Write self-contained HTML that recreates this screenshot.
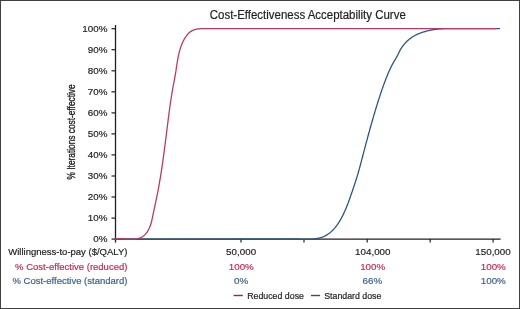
<!DOCTYPE html>
<html><head><meta charset="utf-8">
<style>
html,body{margin:0;padding:0;background:#fff;}
body{width:520px;height:309px;overflow:hidden;}
svg{display:block;will-change:transform;}
text{font-family:"Liberation Sans",sans-serif;stroke:currentColor;stroke-width:0.2px;}
</style></head>
<body>
<svg width="520" height="309" viewBox="0 0 520 309">
<rect x="0" y="0" width="520" height="309" fill="#fff"/>
<rect x="0.5" y="0.5" width="519" height="308" fill="none" stroke="#404040" stroke-width="1"/>
<text x="209.8" y="18.9" font-size="12" fill="#231f20" color="#231f20" textLength="196" lengthAdjust="spacingAndGlyphs">Cost-Effectiveness Acceptability Curve</text>
<!-- y axis title -->
<text transform="translate(75.2,179.4) rotate(-90)" font-size="11.5" fill="#231f20" style="stroke:#231f20;stroke-width:0.35px" textLength="95" lengthAdjust="spacingAndGlyphs">% Iterations cost-effective</text>
<!-- y tick labels -->
<g font-size="9.8" fill="#231f20" color="#231f20" text-anchor="end">
<text x="107.4" y="242.4">0%</text>
<text x="107.4" y="221.4">10%</text>
<text x="107.4" y="200.3">20%</text>
<text x="107.4" y="179.3">30%</text>
<text x="107.4" y="158.2">40%</text>
<text x="107.4" y="137.2">50%</text>
<text x="107.4" y="116.2">60%</text>
<text x="107.4" y="95.1">70%</text>
<text x="107.4" y="74.1">80%</text>
<text x="107.4" y="53.0">90%</text>
<text x="107.4" y="32.0">100%</text>
</g>
<!-- axes -->
<g stroke="#231f20" stroke-width="1.2" fill="none">
<path d="M115.5 25 V242.6" stroke-width="1.3"/>
<path d="M115 239.15 H500.6"/>
<path d="M111.5 239.1 H115.5"/>
<path d="M111.5 218.1 H115.5"/>
<path d="M111.5 197.0 H115.5"/>
<path d="M111.5 176.0 H115.5"/>
<path d="M111.5 154.9 H115.5"/>
<path d="M111.5 133.9 H115.5"/>
<path d="M111.5 112.9 H115.5"/>
<path d="M111.5 91.8 H115.5"/>
<path d="M111.5 70.8 H115.5"/>
<path d="M111.5 49.7 H115.5"/>
<path d="M111.5 28.7 H115.5"/>
<path d="M241.0 239 V242.6"/><path d="M304.0 239 V242.6"/><path d="M367.2 239 V242.6"/><path d="M430.2 239 V242.6"/><path d="M493.1 239 V242.6"/>
</g>
<!-- curves -->
<path d="M115.00 239.05 L280.00 239.01 L280.51 238.99 L281.01 238.97 L281.52 238.95 L282.03 238.94 L282.53 238.92 L283.04 238.91 L283.54 238.90 L284.05 238.89 L284.55 238.88 L285.06 238.87 L285.56 238.87 L286.06 238.86 L286.57 238.86 L287.07 238.85 L287.57 238.85 L288.07 238.85 L288.57 238.85 L289.07 238.85 L289.57 238.85 L290.07 238.86 L290.57 238.86 L291.07 238.86 L291.57 238.87 L292.07 238.87 L292.57 238.88 L293.07 238.89 L293.57 238.89 L294.07 238.90 L294.57 238.91 L295.06 238.92 L295.56 238.93 L296.06 238.94 L296.56 238.95 L297.06 238.96 L297.55 238.97 L298.05 238.98 L298.55 238.99 L299.05 239.00 L299.55 239.02 L300.04 239.03 L300.54 239.04 L301.04 239.05 L301.54 239.05 L302.04 239.05 L302.53 239.05 L303.03 239.05 L303.53 239.05 L304.03 239.05 L304.53 239.05 L305.03 239.05 L305.53 239.05 L306.03 239.05 L306.53 239.05 L307.03 239.05 L307.53 239.05 L308.03 239.05 L308.53 239.05 L309.03 239.05 L309.54 239.05 L310.04 239.05 L310.54 239.05 L311.04 239.05 L311.55 239.05 L312.05 239.05 L312.56 239.05 L313.06 239.01 L313.56 238.97 L314.07 238.92 L314.57 238.87 L315.08 238.81 L315.58 238.75 L316.08 238.68 L316.58 238.60 L317.08 238.51 L317.58 238.42 L318.07 238.32 L318.57 238.21 L319.06 238.10 L319.55 237.98 L320.03 237.85 L320.52 237.71 L321.00 237.56 L321.47 237.41 L321.95 237.24 L322.42 237.07 L322.88 236.88 L323.35 236.69 L323.80 236.49 L324.26 236.29 L324.71 236.07 L325.15 235.85 L325.59 235.61 L326.02 235.37 L326.45 235.13 L326.88 234.87 L327.30 234.61 L327.71 234.34 L328.12 234.07 L328.52 233.78 L328.92 233.50 L329.32 233.20 L329.71 232.90 L330.09 232.59 L330.47 232.27 L330.85 231.95 L331.22 231.63 L331.59 231.29 L331.95 230.96 L332.31 230.61 L332.66 230.26 L333.01 229.91 L333.36 229.55 L333.70 229.19 L334.04 228.82 L334.37 228.44 L334.70 228.07 L335.02 227.68 L335.35 227.30 L335.66 226.91 L335.98 226.51 L336.28 226.11 L336.59 225.71 L336.89 225.30 L337.19 224.89 L337.48 224.48 L337.77 224.06 L338.06 223.64 L338.34 223.22 L338.62 222.80 L338.90 222.37 L339.17 221.94 L339.44 221.51 L339.71 221.07 L339.97 220.64 L340.23 220.20 L340.48 219.76 L340.74 219.31 L340.99 218.87 L341.23 218.43 L341.48 217.98 L341.72 217.53 L341.95 217.08 L342.19 216.63 L342.42 216.18 L342.65 215.73 L342.87 215.28 L343.10 214.83 L343.32 214.38 L343.54 213.92 L343.75 213.47 L343.96 213.01 L344.17 212.56 L344.38 212.10 L344.59 211.65 L344.79 211.19 L344.99 210.74 L345.19 210.28 L345.39 209.82 L345.58 209.36 L345.78 208.90 L345.97 208.45 L346.16 207.99 L346.35 207.53 L346.53 207.06 L346.72 206.60 L346.90 206.14 L347.08 205.68 L347.26 205.22 L347.44 204.76 L347.62 204.29 L347.80 203.83 L347.97 203.36 L348.15 202.90 L348.32 202.43 L348.49 201.97 L348.66 201.50 L348.83 201.04 L349.00 200.57 L349.17 200.10 L349.34 199.64 L349.51 199.17 L349.67 198.70 L349.84 198.23 L350.01 197.76 L350.17 197.29 L350.34 196.82 L350.50 196.35 L350.67 195.88 L350.83 195.41 L351.00 194.94 L351.16 194.47 L351.33 194.00 L351.49 193.53 L351.66 193.05 L351.82 192.58 L351.99 192.11 L352.15 191.63 L352.32 191.16 L352.48 190.69 L352.64 190.21 L352.80 189.74 L352.97 189.26 L353.13 188.79 L353.29 188.31 L353.45 187.84 L353.61 187.36 L353.77 186.88 L353.93 186.41 L354.09 185.93 L354.25 185.45 L354.41 184.98 L354.57 184.50 L354.73 184.02 L354.88 183.54 L355.04 183.06 L355.20 182.59 L355.35 182.11 L355.51 181.63 L355.66 181.15 L355.81 180.67 L355.97 180.19 L356.12 179.71 L356.27 179.23 L356.42 178.75 L356.57 178.27 L356.72 177.79 L356.87 177.31 L357.02 176.83 L357.16 176.35 L357.31 175.86 L357.46 175.38 L357.60 174.90 L357.74 174.42 L357.89 173.94 L358.03 173.45 L358.17 172.97 L358.31 172.49 L358.45 172.01 L358.59 171.52 L358.72 171.04 L358.86 170.56 L358.99 170.08 L359.13 169.59 L359.26 169.11 L359.40 168.63 L359.53 168.14 L359.66 167.66 L359.79 167.18 L359.92 166.69 L360.05 166.21 L360.18 165.72 L360.31 165.24 L360.44 164.76 L360.56 164.27 L360.69 163.79 L360.82 163.30 L360.95 162.82 L361.07 162.33 L361.20 161.85 L361.33 161.37 L361.45 160.88 L361.58 160.40 L361.71 159.91 L361.83 159.43 L361.96 158.94 L362.08 158.46 L362.21 157.97 L362.34 157.49 L362.46 157.01 L362.59 156.52 L362.72 156.04 L362.84 155.55 L362.97 155.07 L363.10 154.58 L363.23 154.10 L363.35 153.61 L363.48 153.13 L363.61 152.64 L363.73 152.16 L363.86 151.67 L363.99 151.19 L364.12 150.71 L364.24 150.22 L364.37 149.74 L364.50 149.25 L364.63 148.77 L364.75 148.28 L364.88 147.80 L365.01 147.31 L365.14 146.83 L365.27 146.34 L365.39 145.86 L365.52 145.38 L365.65 144.89 L365.78 144.41 L365.91 143.92 L366.04 143.44 L366.17 142.95 L366.30 142.47 L366.43 141.98 L366.56 141.50 L366.69 141.02 L366.81 140.53 L366.94 140.05 L367.07 139.56 L367.21 139.08 L367.34 138.59 L367.47 138.11 L367.60 137.63 L367.73 137.14 L367.86 136.66 L367.99 136.17 L368.12 135.69 L368.25 135.21 L368.38 134.72 L368.52 134.24 L368.65 133.76 L368.78 133.27 L368.91 132.79 L369.05 132.30 L369.18 131.82 L369.31 131.34 L369.44 130.85 L369.58 130.37 L369.71 129.89 L369.85 129.40 L369.98 128.92 L370.11 128.44 L370.25 127.95 L370.38 127.47 L370.52 126.99 L370.65 126.51 L370.79 126.02 L370.92 125.54 L371.06 125.06 L371.20 124.58 L371.33 124.09 L371.47 123.61 L371.61 123.13 L371.74 122.65 L371.88 122.16 L372.02 121.68 L372.16 121.20 L372.29 120.72 L372.43 120.24 L372.57 119.75 L372.71 119.27 L372.85 118.79 L372.99 118.31 L373.13 117.83 L373.27 117.35 L373.41 116.86 L373.55 116.38 L373.69 115.90 L373.83 115.42 L373.97 114.94 L374.11 114.46 L374.26 113.98 L374.40 113.50 L374.54 113.02 L374.69 112.54 L374.83 112.06 L374.97 111.58 L375.12 111.10 L375.26 110.62 L375.41 110.14 L375.55 109.66 L375.70 109.18 L375.84 108.70 L375.99 108.22 L376.13 107.74 L376.28 107.26 L376.43 106.78 L376.58 106.30 L376.72 105.82 L376.87 105.34 L377.02 104.86 L377.17 104.38 L377.32 103.91 L377.47 103.43 L377.62 102.95 L377.77 102.47 L377.92 101.99 L378.07 101.52 L378.22 101.04 L378.37 100.56 L378.53 100.08 L378.68 99.61 L378.83 99.13 L378.98 98.65 L379.14 98.17 L379.29 97.70 L379.45 97.22 L379.60 96.74 L379.76 96.27 L379.91 95.79 L380.07 95.32 L380.23 94.84 L380.39 94.37 L380.54 93.89 L380.70 93.41 L380.86 92.94 L381.02 92.47 L381.18 91.99 L381.34 91.52 L381.51 91.04 L381.67 90.57 L381.83 90.10 L381.99 89.62 L382.16 89.15 L382.32 88.68 L382.49 88.21 L382.65 87.73 L382.82 87.26 L382.99 86.79 L383.15 86.32 L383.32 85.85 L383.49 85.38 L383.66 84.91 L383.83 84.44 L384.01 83.97 L384.18 83.50 L384.35 83.03 L384.52 82.56 L384.70 82.10 L384.87 81.63 L385.05 81.16 L385.23 80.69 L385.41 80.23 L385.58 79.76 L385.76 79.30 L385.94 78.83 L386.12 78.37 L386.31 77.90 L386.49 77.44 L386.67 76.97 L386.86 76.51 L387.04 76.05 L387.23 75.59 L387.42 75.13 L387.61 74.66 L387.80 74.20 L387.99 73.74 L388.18 73.28 L388.38 72.82 L388.57 72.37 L388.77 71.91 L388.97 71.45 L389.17 70.99 L389.38 70.54 L389.58 70.08 L389.79 69.62 L390.00 69.17 L390.21 68.71 L390.43 68.26 L390.64 67.81 L390.86 67.35 L391.09 66.90 L391.31 66.45 L391.54 66.00 L391.77 65.55 L392.01 65.10 L392.25 64.65 L392.49 64.20 L392.73 63.75 L392.98 63.31 L393.23 62.86 L393.48 62.41 L393.74 61.97 L394.00 61.52 L394.27 61.08 L394.54 60.64 L394.81 60.19 L395.08 59.75 L395.35 59.31 L395.62 58.87 L395.88 58.43 L396.14 57.99 L396.39 57.55 L396.64 57.11 L396.88 56.67 L397.11 56.24 L397.34 55.80 L397.56 55.36 L397.77 54.93 L397.98 54.49 L398.19 54.06 L398.39 53.63 L398.60 53.19 L398.81 52.76 L399.02 52.33 L399.23 51.90 L399.45 51.46 L399.67 51.03 L399.90 50.60 L400.13 50.18 L400.37 49.75 L400.62 49.32 L400.87 48.90 L401.13 48.47 L401.40 48.05 L401.67 47.63 L401.95 47.22 L402.23 46.81 L402.52 46.40 L402.82 45.99 L403.12 45.59 L403.43 45.19 L403.74 44.80 L404.06 44.41 L404.39 44.02 L404.72 43.64 L405.05 43.26 L405.39 42.89 L405.74 42.52 L406.09 42.15 L406.45 41.79 L406.81 41.44 L407.18 41.09 L407.55 40.74 L407.92 40.40 L408.30 40.06 L408.69 39.73 L409.08 39.41 L409.47 39.09 L409.87 38.78 L410.27 38.47 L410.67 38.17 L411.08 37.87 L411.49 37.58 L411.90 37.30 L412.32 37.02 L412.74 36.75 L413.17 36.49 L413.60 36.23 L414.03 35.98 L414.46 35.74 L414.90 35.50 L415.34 35.26 L415.78 35.04 L416.23 34.82 L416.67 34.60 L417.12 34.39 L417.58 34.19 L418.03 33.99 L418.49 33.79 L418.95 33.60 L419.41 33.42 L419.88 33.24 L420.34 33.06 L420.81 32.89 L421.28 32.72 L421.75 32.56 L422.22 32.39 L422.70 32.24 L423.18 32.08 L423.65 31.94 L424.13 31.79 L424.62 31.65 L425.10 31.51 L425.58 31.37 L426.07 31.24 L426.55 31.11 L427.04 30.98 L427.53 30.86 L428.02 30.74 L428.51 30.62 L429.00 30.51 L429.49 30.40 L429.98 30.29 L430.48 30.19 L430.97 30.09 L431.46 30.00 L431.96 29.91 L432.45 29.82 L432.95 29.74 L433.44 29.66 L433.94 29.58 L434.43 29.51 L434.93 29.44 L435.43 29.38 L435.92 29.32 L436.42 29.26 L436.92 29.20 L437.41 29.15 L437.91 29.10 L438.41 29.05 L438.90 29.01 L439.40 28.97 L439.90 28.93 L440.40 28.89 L440.90 28.86 L441.39 28.83 L441.89 28.80 L442.39 28.77 L442.89 28.75 L443.39 28.72 L443.89 28.70 L444.39 28.69 L444.89 28.67 L445.39 28.65 L445.89 28.65 L446.39 28.65 L446.89 28.65 L447.39 28.65 L447.89 28.65 L448.39 28.65 L448.89 28.65 L449.39 28.65 L449.89 28.65 L450.39 28.65 L450.89 28.65 L451.39 28.65 L451.89 28.65 L452.40 28.65 L452.90 28.65 L453.40 28.65 L453.90 28.65 L454.40 28.65 L454.90 28.65 L455.41 28.65 L455.91 28.65 L456.41 28.65 L456.91 28.65 L457.41 28.65 L457.92 28.65 L458.42 28.65 L458.92 28.65 L459.42 28.65 L459.92 28.65 L460.43 28.65 L460.93 28.65 L461.43 28.65 L461.93 28.65 L462.44 28.65 L462.94 28.65 L463.44 28.65 L463.94 28.65 L464.45 28.65 L464.95 28.65 L465.45 28.65 L465.95 28.65 L466.46 28.65 L466.96 28.65 L467.46 28.65 L467.96 28.65 L468.46 28.65 L468.97 28.65 L469.47 28.65 L469.97 28.65 L470.47 28.65 L470.98 28.65 L471.48 28.65 L471.98 28.65 L472.48 28.65 L472.98 28.65 L473.49 28.65 L473.99 28.65 L474.49 28.65 L474.99 28.65 L475.49 28.65 L475.99 28.65 L476.49 28.65 L477.00 28.65 L477.50 28.65 L478.00 28.65 L478.50 28.65 L479.00 28.65 L479.50 28.65 L480.00 28.65 L480.50 28.65 L481.00 28.65 L481.50 28.65 L482.00 28.65 L482.50 28.65 L483.00 28.65 L483.50 28.65 L484.00 28.65 L484.50 28.65 L485.00 28.65 L500.00 28.65" fill="none" stroke="#2d5580" stroke-width="1.3"/>
<path d="M115.00 239.05 L115.01 239.00 L115.49 238.94 L115.97 238.89 L116.45 238.85 L116.94 238.81 L117.43 238.79 L117.92 238.77 L118.41 238.75 L118.91 238.74 L119.40 238.74 L119.90 238.75 L120.40 238.75 L120.90 238.77 L121.40 238.78 L121.91 238.80 L122.41 238.82 L122.92 238.85 L123.43 238.87 L123.94 238.90 L124.44 238.93 L124.95 238.96 L125.46 238.99 L125.97 239.02 L126.48 239.05 L127.00 239.05 L127.51 239.05 L128.02 239.05 L128.53 239.05 L129.04 239.05 L129.55 239.05 L130.06 239.05 L130.57 239.05 L131.07 239.05 L131.58 239.05 L132.09 239.05 L132.59 239.05 L133.10 239.05 L133.60 239.05 L134.10 239.05 L134.60 239.03 L135.10 238.98 L135.60 238.91 L136.09 238.84 L136.58 238.76 L137.07 238.67 L137.56 238.56 L138.04 238.45 L138.52 238.32 L139.00 238.18 L139.47 238.03 L139.93 237.87 L140.39 237.69 L140.83 237.50 L141.28 237.29 L141.71 237.07 L142.13 236.83 L142.55 236.58 L142.95 236.31 L143.35 236.03 L143.73 235.73 L144.11 235.42 L144.47 235.09 L144.83 234.75 L145.18 234.40 L145.52 234.04 L145.85 233.67 L146.17 233.28 L146.48 232.88 L146.78 232.48 L147.08 232.07 L147.36 231.64 L147.64 231.21 L147.90 230.78 L148.16 230.33 L148.41 229.88 L148.66 229.42 L148.89 228.96 L149.12 228.50 L149.33 228.03 L149.54 227.56 L149.74 227.08 L149.94 226.61 L150.12 226.13 L150.30 225.65 L150.47 225.17 L150.63 224.69 L150.79 224.21 L150.94 223.73 L151.08 223.25 L151.22 222.76 L151.35 222.28 L151.48 221.80 L151.60 221.32 L151.72 220.84 L151.83 220.36 L151.94 219.87 L152.05 219.39 L152.16 218.91 L152.26 218.43 L152.36 217.94 L152.46 217.46 L152.56 216.98 L152.66 216.49 L152.76 216.01 L152.85 215.52 L152.95 215.04 L153.05 214.56 L153.15 214.07 L153.25 213.59 L153.35 213.10 L153.45 212.62 L153.55 212.13 L153.66 211.64 L153.76 211.16 L153.86 210.67 L153.96 210.19 L154.07 209.70 L154.17 209.21 L154.28 208.73 L154.38 208.24 L154.48 207.75 L154.59 207.26 L154.69 206.78 L154.80 206.29 L154.90 205.80 L155.01 205.31 L155.11 204.83 L155.22 204.34 L155.32 203.85 L155.43 203.36 L155.53 202.87 L155.63 202.38 L155.74 201.89 L155.84 201.40 L155.95 200.91 L156.05 200.42 L156.15 199.93 L156.26 199.44 L156.36 198.95 L156.46 198.46 L156.56 197.97 L156.67 197.48 L156.77 196.99 L156.87 196.50 L156.97 196.01 L157.07 195.52 L157.17 195.03 L157.27 194.54 L157.36 194.05 L157.46 193.55 L157.56 193.06 L157.66 192.57 L157.75 192.08 L157.85 191.59 L157.94 191.09 L158.04 190.60 L158.13 190.11 L158.22 189.62 L158.32 189.12 L158.41 188.63 L158.50 188.14 L158.59 187.64 L158.68 187.15 L158.77 186.66 L158.86 186.16 L158.95 185.67 L159.04 185.18 L159.13 184.68 L159.21 184.19 L159.30 183.69 L159.39 183.20 L159.47 182.70 L159.56 182.21 L159.65 181.72 L159.73 181.22 L159.82 180.73 L159.90 180.23 L159.98 179.74 L160.07 179.24 L160.15 178.75 L160.23 178.25 L160.31 177.76 L160.40 177.26 L160.48 176.77 L160.56 176.27 L160.64 175.77 L160.72 175.28 L160.80 174.78 L160.88 174.29 L160.95 173.79 L161.03 173.29 L161.11 172.80 L161.19 172.30 L161.27 171.81 L161.34 171.31 L161.42 170.81 L161.50 170.32 L161.57 169.82 L161.65 169.32 L161.72 168.83 L161.80 168.33 L161.87 167.83 L161.95 167.34 L162.02 166.84 L162.09 166.34 L162.17 165.85 L162.24 165.35 L162.31 164.85 L162.38 164.35 L162.46 163.86 L162.53 163.36 L162.60 162.86 L162.67 162.36 L162.74 161.87 L162.81 161.37 L162.88 160.87 L162.95 160.37 L163.02 159.88 L163.09 159.38 L163.16 158.88 L163.23 158.38 L163.30 157.89 L163.37 157.39 L163.44 156.89 L163.50 156.39 L163.57 155.89 L163.64 155.40 L163.71 154.90 L163.77 154.40 L163.84 153.90 L163.91 153.40 L163.97 152.91 L164.04 152.41 L164.11 151.91 L164.17 151.41 L164.24 150.91 L164.30 150.42 L164.37 149.92 L164.44 149.42 L164.50 148.92 L164.57 148.42 L164.63 147.92 L164.70 147.43 L164.76 146.93 L164.82 146.43 L164.89 145.93 L164.95 145.43 L165.02 144.94 L165.08 144.44 L165.14 143.94 L165.21 143.44 L165.27 142.94 L165.34 142.44 L165.40 141.95 L165.46 141.45 L165.52 140.95 L165.59 140.45 L165.65 139.95 L165.71 139.46 L165.78 138.96 L165.84 138.46 L165.90 137.96 L165.96 137.46 L166.03 136.97 L166.09 136.47 L166.15 135.97 L166.21 135.47 L166.28 134.97 L166.34 134.48 L166.40 133.98 L166.46 133.48 L166.53 132.98 L166.59 132.49 L166.65 131.99 L166.71 131.49 L166.77 130.99 L166.84 130.50 L166.90 130.00 L166.96 129.50 L167.02 129.00 L167.09 128.51 L167.15 128.01 L167.21 127.51 L167.27 127.01 L167.34 126.52 L167.40 126.02 L167.46 125.52 L167.52 125.03 L167.58 124.53 L167.65 124.03 L167.71 123.54 L167.77 123.04 L167.84 122.54 L167.90 122.05 L167.96 121.55 L168.02 121.05 L168.09 120.56 L168.15 120.06 L168.21 119.56 L168.28 119.07 L168.34 118.57 L168.40 118.08 L168.47 117.58 L168.53 117.08 L168.60 116.59 L168.66 116.09 L168.72 115.60 L168.79 115.10 L168.85 114.61 L168.92 114.11 L168.98 113.62 L169.05 113.12 L169.11 112.63 L169.18 112.13 L169.24 111.64 L169.31 111.14 L169.37 110.65 L169.44 110.15 L169.51 109.66 L169.57 109.16 L169.64 108.67 L169.71 108.17 L169.78 107.68 L169.84 107.19 L169.91 106.69 L169.98 106.20 L170.05 105.70 L170.12 105.21 L170.19 104.72 L170.26 104.22 L170.33 103.73 L170.40 103.23 L170.47 102.74 L170.54 102.25 L170.61 101.75 L170.68 101.26 L170.76 100.77 L170.83 100.27 L170.90 99.78 L170.98 99.29 L171.05 98.79 L171.13 98.30 L171.20 97.81 L171.28 97.31 L171.36 96.82 L171.43 96.33 L171.51 95.83 L171.59 95.34 L171.67 94.85 L171.75 94.35 L171.83 93.86 L171.91 93.37 L171.99 92.87 L172.07 92.38 L172.15 91.89 L172.24 91.40 L172.32 90.90 L172.41 90.41 L172.49 89.92 L172.58 89.42 L172.66 88.93 L172.75 88.44 L172.84 87.95 L172.93 87.45 L173.02 86.96 L173.11 86.47 L173.20 85.97 L173.29 85.48 L173.38 84.99 L173.48 84.49 L173.57 84.00 L173.66 83.51 L173.76 83.02 L173.85 82.52 L173.95 82.03 L174.05 81.54 L174.14 81.04 L174.24 80.55 L174.33 80.06 L174.43 79.56 L174.52 79.07 L174.62 78.58 L174.71 78.08 L174.80 77.59 L174.89 77.10 L174.98 76.60 L175.07 76.11 L175.16 75.62 L175.24 75.12 L175.33 74.63 L175.41 74.14 L175.49 73.64 L175.57 73.15 L175.65 72.65 L175.73 72.16 L175.81 71.67 L175.88 71.17 L175.96 70.68 L176.03 70.18 L176.11 69.69 L176.18 69.20 L176.26 68.70 L176.33 68.21 L176.40 67.71 L176.48 67.22 L176.55 66.72 L176.62 66.23 L176.70 65.73 L176.77 65.24 L176.85 64.74 L176.92 64.25 L177.00 63.76 L177.07 63.26 L177.15 62.76 L177.23 62.27 L177.31 61.77 L177.39 61.28 L177.48 60.78 L177.56 60.29 L177.65 59.79 L177.73 59.30 L177.82 58.80 L177.91 58.30 L178.01 57.81 L178.10 57.31 L178.20 56.82 L178.30 56.32 L178.40 55.82 L178.51 55.33 L178.62 54.83 L178.73 54.34 L178.84 53.84 L178.95 53.35 L179.07 52.86 L179.20 52.37 L179.32 51.87 L179.45 51.38 L179.58 50.90 L179.72 50.41 L179.85 49.92 L180.00 49.44 L180.14 48.95 L180.29 48.47 L180.44 47.99 L180.60 47.51 L180.76 47.03 L180.93 46.56 L181.10 46.08 L181.27 45.61 L181.45 45.14 L181.63 44.68 L181.82 44.21 L182.01 43.75 L182.21 43.29 L182.41 42.83 L182.62 42.38 L182.83 41.93 L183.05 41.48 L183.27 41.03 L183.49 40.59 L183.73 40.15 L183.97 39.71 L184.21 39.28 L184.46 38.85 L184.71 38.42 L184.98 38.00 L185.24 37.58 L185.52 37.16 L185.79 36.75 L186.08 36.34 L186.37 35.94 L186.67 35.54 L186.97 35.14 L187.29 34.76 L187.61 34.37 L187.93 34.00 L188.27 33.63 L188.61 33.28 L188.96 32.93 L189.33 32.60 L189.70 32.28 L190.08 31.97 L190.47 31.67 L190.87 31.39 L191.28 31.13 L191.70 30.88 L192.13 30.65 L192.57 30.43 L193.02 30.23 L193.48 30.05 L193.95 29.88 L194.43 29.72 L194.91 29.58 L195.39 29.45 L195.88 29.33 L196.38 29.22 L196.88 29.13 L197.38 29.04 L197.88 28.97 L198.38 28.90 L198.88 28.84 L199.39 28.79 L199.89 28.75 L200.39 28.71 L200.90 28.68 L201.40 28.66 L201.91 28.65 L202.41 28.65 L202.91 28.65 L203.42 28.65 L203.92 28.65 L204.43 28.65 L204.93 28.65 L205.44 28.65 L205.94 28.65 L206.45 28.65 L206.95 28.65 L207.45 28.65 L207.96 28.65 L208.46 28.65 L208.97 28.65 L209.47 28.65 L209.98 28.65 L210.48 28.65 L210.99 28.65 L211.49 28.65 L211.99 28.65 L212.50 28.65 L213.00 28.65 L213.51 28.65 L214.01 28.65 L214.51 28.65 L215.02 28.65 L215.52 28.65 L216.02 28.65 L216.53 28.65 L217.03 28.65 L217.53 28.65 L218.03 28.65 L218.54 28.65 L219.04 28.65 L219.54 28.65 L220.04 28.65 L220.54 28.65 L221.04 28.65 L221.54 28.65 L222.04 28.65 L222.54 28.65 L223.04 28.65 L223.54 28.65 L224.04 28.65 L224.54 28.65 L225.03 28.65 L225.53 28.65 L226.03 28.65 L226.53 28.65 L227.02 28.65 L227.52 28.65 L228.01 28.65 L228.51 28.65 L229.00 28.65 L229.50 28.65 L229.99 28.65 L496.00 28.65" fill="none" stroke="#b93a64" stroke-width="1.3"/>
<!-- bottom table -->
<g font-size="9.5" text-anchor="end">
<text x="127.4" y="254.7" fill="#231f20" color="#231f20">Willingness-to-pay ($/QALY)</text>
<text x="127.4" y="269.5" fill="#c42c52" color="#c42c52">% Cost-effective (reduced)</text>
<text x="127.4" y="284.3" fill="#3d638b" color="#3d638b">% Cost-effective (standard)</text>
</g>
<g font-size="9.8" text-anchor="middle">
<text x="241.1" y="254.7" fill="#231f20" color="#231f20">50,000</text>
<text x="241.3" y="269.5" fill="#c42c52" color="#c42c52">100%</text>
<text x="241.1" y="284.3" fill="#3d638b" color="#3d638b">0%</text>
<text x="372.8" y="254.7" fill="#231f20" color="#231f20">104,000</text>
<text x="372.7" y="269.5" fill="#c42c52" color="#c42c52">100%</text>
<text x="372.4" y="284.3" fill="#3d638b" color="#3d638b">66%</text>
<text x="493" y="254.7" fill="#231f20" color="#231f20">150,000</text>
<text x="493.3" y="269.5" fill="#c42c52" color="#c42c52">100%</text>
<text x="493.3" y="284.3" fill="#3d638b" color="#3d638b">100%</text>
</g>
<!-- legend -->
<path d="M233.6 295.5 H242.8" stroke="#8c2c50" stroke-width="1.4"/>
<path d="M311 295.5 H320.1" stroke="#34506a" stroke-width="1.4"/>
<g font-size="8.8" fill="#231f20" color="#231f20">
<text x="247.2" y="298.5">Reduced dose</text>
<text x="324.2" y="298.5">Standard dose</text>
</g>
</svg>
</body></html>
